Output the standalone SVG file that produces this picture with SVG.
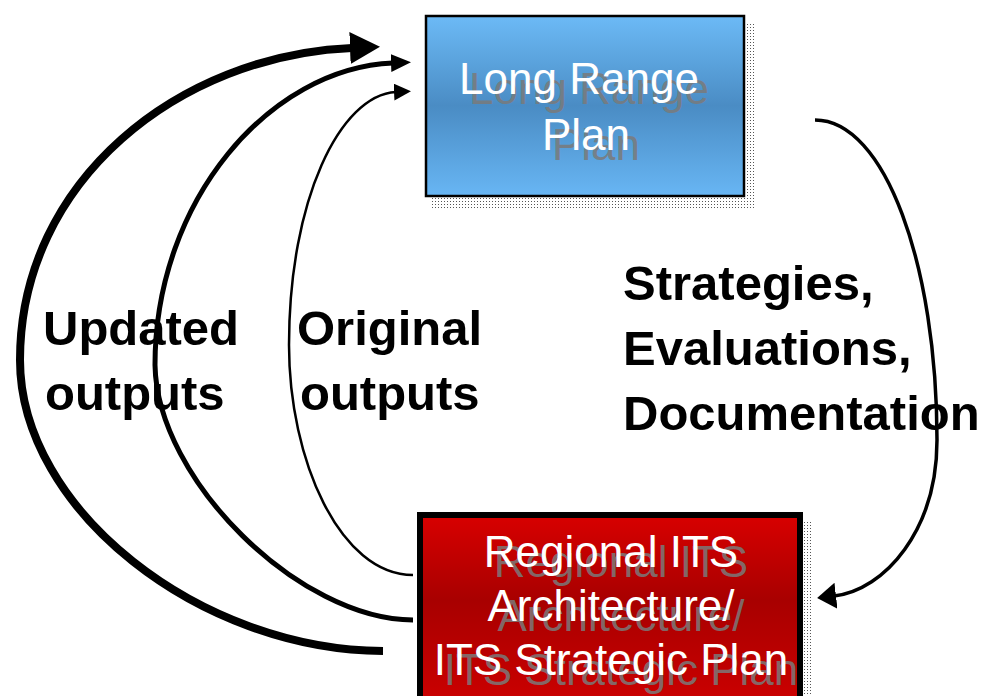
<svg xmlns="http://www.w3.org/2000/svg" width="989" height="696" viewBox="0 0 989 696">
<style>
.lbl{font-family:"Liberation Sans",Arial,sans-serif;font-weight:bold;font-size:49px;fill:#000}
.nt{font-family:"Liberation Sans",Arial,sans-serif;font-size:44px;text-anchor:middle}
.w{fill:#fff}
.g{fill:#7a7a7a;fill-opacity:0.85}
.c{fill:none;stroke:#000;stroke-linecap:butt}
</style>
<defs>
<linearGradient id="blueG" x1="0" y1="0" x2="0" y2="1">
<stop offset="0" stop-color="#6cbaf6"/>
<stop offset="0.5" stop-color="#4a8cc4"/>
<stop offset="1" stop-color="#68b6f4"/>
</linearGradient>
<linearGradient id="redG" x1="0" y1="0" x2="0" y2="1">
<stop offset="0" stop-color="#d80000"/>
<stop offset="0.45" stop-color="#a80000"/>
<stop offset="1" stop-color="#cc0000"/>
</linearGradient>
<pattern id="dots" width="3" height="3" patternUnits="userSpaceOnUse">
<rect width="3" height="3" fill="#fff"/>
<rect width="1" height="1" fill="#555"/>
</pattern>
<marker id="hBig" markerUnits="userSpaceOnUse" markerWidth="32" markerHeight="34" refX="2" refY="16" orient="auto">
<path d="M0,0 L30,16 L0,32 z" fill="#000"/>
</marker>
<marker id="hMed" markerUnits="userSpaceOnUse" markerWidth="22" markerHeight="20" refX="2" refY="9" orient="auto">
<path d="M0,0 L20,9 L0,18 z" fill="#000"/>
</marker>
<marker id="hSm" markerUnits="userSpaceOnUse" markerWidth="19" markerHeight="18" refX="2" refY="8.5" orient="auto">
<path d="M0,0 L17,8.5 L0,17 z" fill="#000"/>
</marker>
<marker id="hR" markerUnits="userSpaceOnUse" markerWidth="20" markerHeight="28" refX="2" refY="13" orient="auto">
<path d="M0,0 L19,13 L0,26 z" fill="#000"/>
</marker>
</defs>
<rect width="989" height="696" fill="#fff"/>

<g id="long-range-plan">
<rect x="745" y="22" width="10" height="186" fill="url(#dots)"/>
<rect x="432" y="197" width="323" height="11" fill="url(#dots)"/>
<rect x="426" y="16" width="318" height="180" fill="url(#blueG)" stroke="#000" stroke-width="2.5"/>
<text class="nt g"><tspan x="589" y="104">Long Range</tspan><tspan x="596" y="160">Plan</tspan></text>
<text class="nt w"><tspan x="579" y="94">Long Range</tspan><tspan x="586" y="150">Plan</tspan></text>
</g>

<g id="regional-its">
<rect x="803" y="522" width="8" height="180" fill="url(#dots)"/>
<rect x="420" y="515" width="380" height="190" fill="url(#redG)" stroke="#000" stroke-width="6"/>
<text class="nt g"><tspan x="621" y="577">Regional ITS</tspan><tspan x="621" y="631">Architecture/</tspan><tspan x="621" y="685">ITS Strategic Plan</tspan></text>
<text class="nt w"><tspan x="611" y="567">Regional ITS</tspan><tspan x="611" y="621">Architecture/</tspan><tspan x="611" y="675">ITS Strategic Plan</tspan></text>
</g>

<g id="connectors">
<path class="c" stroke-width="8" d="M383,651 C200,650 20,510 20,360 C20,180 180,55 352,48" marker-end="url(#hBig)"/>
<path class="c" stroke-width="5" d="M413,620 C300,620 157,480 155,365 C155,200 270,68 393,63" marker-end="url(#hMed)"/>
<path class="c" stroke-width="2.5" d="M413,575 C340,575 289,460 289,345 C289,200 340,95 396,92" marker-end="url(#hSm)"/>
<path class="c" stroke-width="3.5" d="M815,120 C885,120 937,265 937,440 C937,530 885,590 834,596" marker-end="url(#hR)"/>
</g>

<g id="labels">
<text class="lbl"><tspan x="43" y="345">Updated</tspan><tspan x="45" y="410">outputs</tspan></text>
<text class="lbl"><tspan x="297" y="345">Original</tspan><tspan x="300" y="410">outputs</tspan></text>
<text class="lbl"><tspan x="623" y="300">Strategies,</tspan><tspan x="623" y="365">Evaluations,</tspan><tspan x="623" y="430">Documentation</tspan></text>
</g>
</svg>
